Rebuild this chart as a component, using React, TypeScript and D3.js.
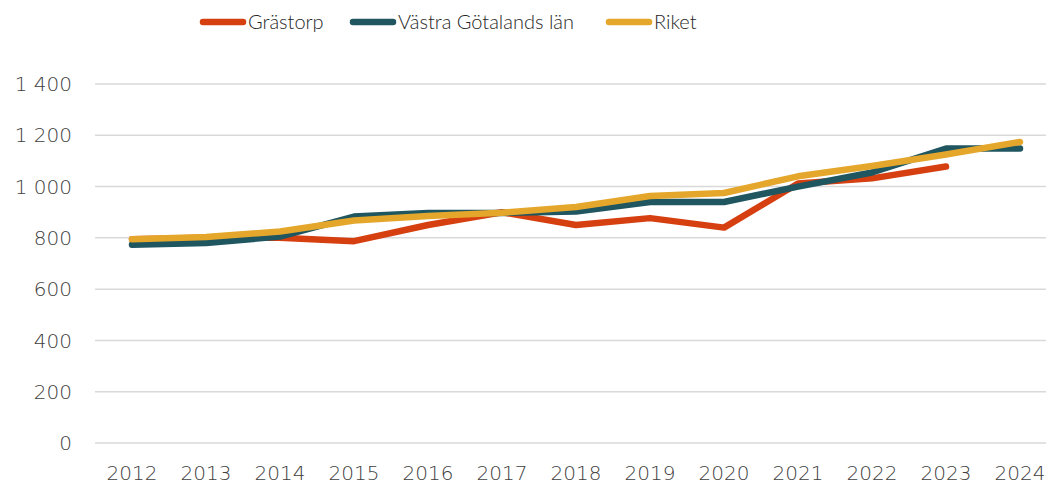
import React from "react";
import * as d3 from "d3";

const years = ["2012","2013","2014","2015","2016","2017","2018","2019","2020","2021","2022","2023","2024"];
const grastorp: (number | null)[] = [795, 800, 800, 787, 850, 900, 850, 877, 840, 1012, 1032, 1078, null];
const vastra: number[] = [773, 780, 805, 883, 897, 897, 903, 940, 940, 1000, 1055, 1148, 1148];
const riket: number[] = [795, 803, 825, 868, 885, 898, 920, 963, 975, 1040, 1080, 1125, 1174];
const yTicks = [0, 200, 400, 600, 800, 1000, 1200, 1400];
const seriesNames = ["Grästorp", "Västra Götalands län", "Riket"];
const colors = ["#D63F10", "#1F5660", "#E5A72B"];

const W = 1046, H = 484;
const fmt = (v: number) => v >= 1000 ? `${Math.floor(v / 1000)} ${String(v % 1000).padStart(3, "0")}` : String(v);

export default function App() {
  const x = d3.scaleBand().domain(years).range([95, 1057]);
  const y = d3.scaleLinear().domain([0, 1400]).range([443, 84]);
  const cx = (d: string) => (x(d) as number) + x.bandwidth() / 2;
  const line = d3.line<number | null>()
    .defined(d => d !== null)
    .x((_, i) => cx(years[i]))
    .y(d => y(d as number));
  const data = [grastorp, vastra, riket];
  const font = "'Lato', 'Open Sans', sans-serif";
  const tickFont = "'DejaVu Sans', sans-serif";
  const legendX = [200, 350, 606];
  return (
    <svg width={W} height={H} style={{ position: "absolute", left: 0, top: 0 }} fontFamily={font}>
      {yTicks.map(t => (
        <g key={t}>
          <line x1={95} x2={W} y1={y(t)} y2={y(t)} stroke="#d9d9d9" strokeWidth={1.5} />
          <text x={72} y={y(t)} dy="0.36em" textAnchor="end" fontSize={20} fill="#404040" fontWeight={200} fontFamily={tickFont}>{fmt(t)}</text>
        </g>
      ))}
      {years.map(yr => (
        <text key={yr} x={cx(yr)} y={480} textAnchor="middle" fontSize={20} fill="#404040" fontWeight={200} fontFamily={tickFont}>{yr}</text>
      ))}
      {data.map((s, i) => (
        <path key={i} d={line(s) as string} fill="none" stroke={colors[i]} strokeWidth={6.5} strokeLinecap="round" strokeLinejoin="round" />
      ))}
      {seriesNames.map((n, i) => (
        <g key={n}>
          <line x1={legendX[i] + 3} x2={legendX[i] + 43} y1={22} y2={22} stroke={colors[i]} strokeWidth={6.5} strokeLinecap="round" />
          <text x={legendX[i] + 48} y={22} dy="0.35em" fontSize={20} fill="#262626" fontWeight={300}>{n}</text>
        </g>
      ))}
    </svg>
  );
}
